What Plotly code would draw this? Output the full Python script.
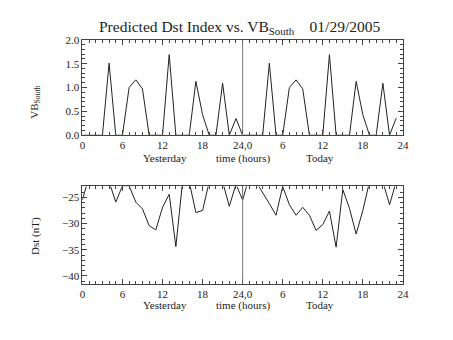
import plotly.graph_objects as go

hours = list(range(48))
vb_south = [0, 0, 0, 0, 1.51, 0, 0, 1.0, 1.16, 0.97, 0, 0, 0, 1.69, 0, 0, 0, 1.13, 0.43, 0, 0, 1.09, 0, 0.35,
            0, 0, 0, 0, 1.51, 0, 0, 1.0, 1.16, 0.97, 0, 0, 0, 1.69, 0, 0, 0, 1.13, 0.43, 0, 0, 1.09, 0, 0.36]
dst = [-25.5, -21, -21, -21, -22, -25.9, -22.8, -22.8, -25.9, -27.2, -30.4, -31.2, -26.9, -24.4, -34.4, -22,
       -22, -27.9, -27.5, -22, -21, -22, -26.7, -22.5,
       -25.5, -21, -22, -24.0, -26.2, -28.4, -22.9, -26.4, -28.4, -26.9, -28.4, -31.3, -30.2, -27.6, -34.5, -23.5,
       -27.1, -32.0, -27.5, -22, -21, -22, -26.4, -22]
x_tickvals = [0, 6, 12, 18, 24, 30, 36, 42, 48]
x_ticktext = ["0", "6", "12", "18", "24,0", "6", "12", "18", "24"]
title_text = "Predicted Dst Index vs. VB<sub>South</sub>    01/29/2005"

FONT = "Liberation Serif, DejaVu Serif, serif"
AX = "#444444"
TXT = "#222222"

fig = go.Figure()
fig.add_trace(go.Scatter(x=hours, y=vb_south, mode="lines", line=dict(color="#222222", width=1),
                         xaxis="x", yaxis="y", showlegend=False))
fig.add_trace(go.Scatter(x=hours, y=dst, mode="lines", line=dict(color="#222222", width=1),
                         xaxis="x2", yaxis="y2", showlegend=False))

xd = [81 / 453, 408 / 453]
common_x = dict(range=[0, 48], tickvals=x_tickvals, ticktext=x_ticktext, ticks="inside", ticklen=5,
                tickcolor=AX, showline=True, linecolor=AX, linewidth=1, mirror="ticks", showgrid=False,
                zeroline=False, domain=xd, tickfont=dict(family=FONT, size=11, color=TXT),
                minor=dict(dtick=1, ticks="inside", ticklen=3, tickcolor=AX, showgrid=False))
fig.update_layout(
    width=453, height=340, autosize=False, margin=dict(l=0, r=0, t=0, b=0),
    plot_bgcolor="white", paper_bgcolor="white",
    xaxis=dict(**common_x, anchor="y"),
    xaxis2=dict(**common_x, anchor="y2"),
    yaxis=dict(range=[0, 2.0], domain=[(340 - 134) / 340, (340 - 35) / 340], tickvals=[0, 0.5, 1.0, 1.5, 2.0],
               ticktext=["0.0", "0.5", "1.0", "1.5", "2.0"], ticks="inside", ticklen=5, tickcolor=AX,
               showline=True, linecolor=AX, mirror="ticks", showgrid=False, zeroline=False, anchor="x",
               tickfont=dict(family=FONT, size=11, color=TXT),
               minor=dict(dtick=0.1, ticks="inside", ticklen=3, tickcolor=AX, showgrid=False)),
    yaxis2=dict(range=[-41.5, -22.9], domain=[(340 - 288) / 340, (340 - 187) / 340],
                tickvals=[-40, -35, -30, -25], ticks="inside", ticklen=5, tickcolor=AX,
                showline=True, linecolor=AX, mirror="ticks", showgrid=False, zeroline=False, anchor="x2",
                tickfont=dict(family=FONT, size=11, color=TXT),
                minor=dict(dtick=1, ticks="inside", ticklen=3, tickcolor=AX, showgrid=False)),
)

for yref in ["y", "y2"]:
    xr = "x" if yref == "y" else "x2"
    fig.add_shape(type="line", xref=xr, yref=yref + " domain", x0=24, x1=24, y0=0, y1=1,
                  line=dict(color="#777777", width=1))

ann = []
ann.append(dict(text=title_text, x=241 / 453, y=1 - 22 / 340, xref="paper", yref="paper", showarrow=False,
                font=dict(family=FONT, size=15.5, color=TXT), xanchor="center", yanchor="middle"))
for yc in [158, 310]:
    for txt, xv in [("Yesterday", 12.3), ("time (hours)", 24), ("Today", 35.6)]:
        ann.append(dict(text=txt, x=(81 + xv * (327 / 48)) / 453, y=1 - yc / 340, xref="paper", yref="paper",
                        showarrow=False, font=dict(family=FONT, size=11, color=TXT),
                        xanchor="center", yanchor="middle"))
ann.append(dict(text="VB<sub>South</sub>", x=33 / 453, y=1 - 100 / 340, xref="paper", yref="paper",
                showarrow=False, textangle=-90, font=dict(family=FONT, size=11, color=TXT),
                xanchor="center", yanchor="middle"))
ann.append(dict(text="Dst (nT)", x=33 / 453, y=1 - 238 / 340, xref="paper", yref="paper",
                showarrow=False, textangle=-90, font=dict(family=FONT, size=11, color=TXT),
                xanchor="center", yanchor="middle"))
fig.update_layout(annotations=ann)

fig.write_html("out.html")
